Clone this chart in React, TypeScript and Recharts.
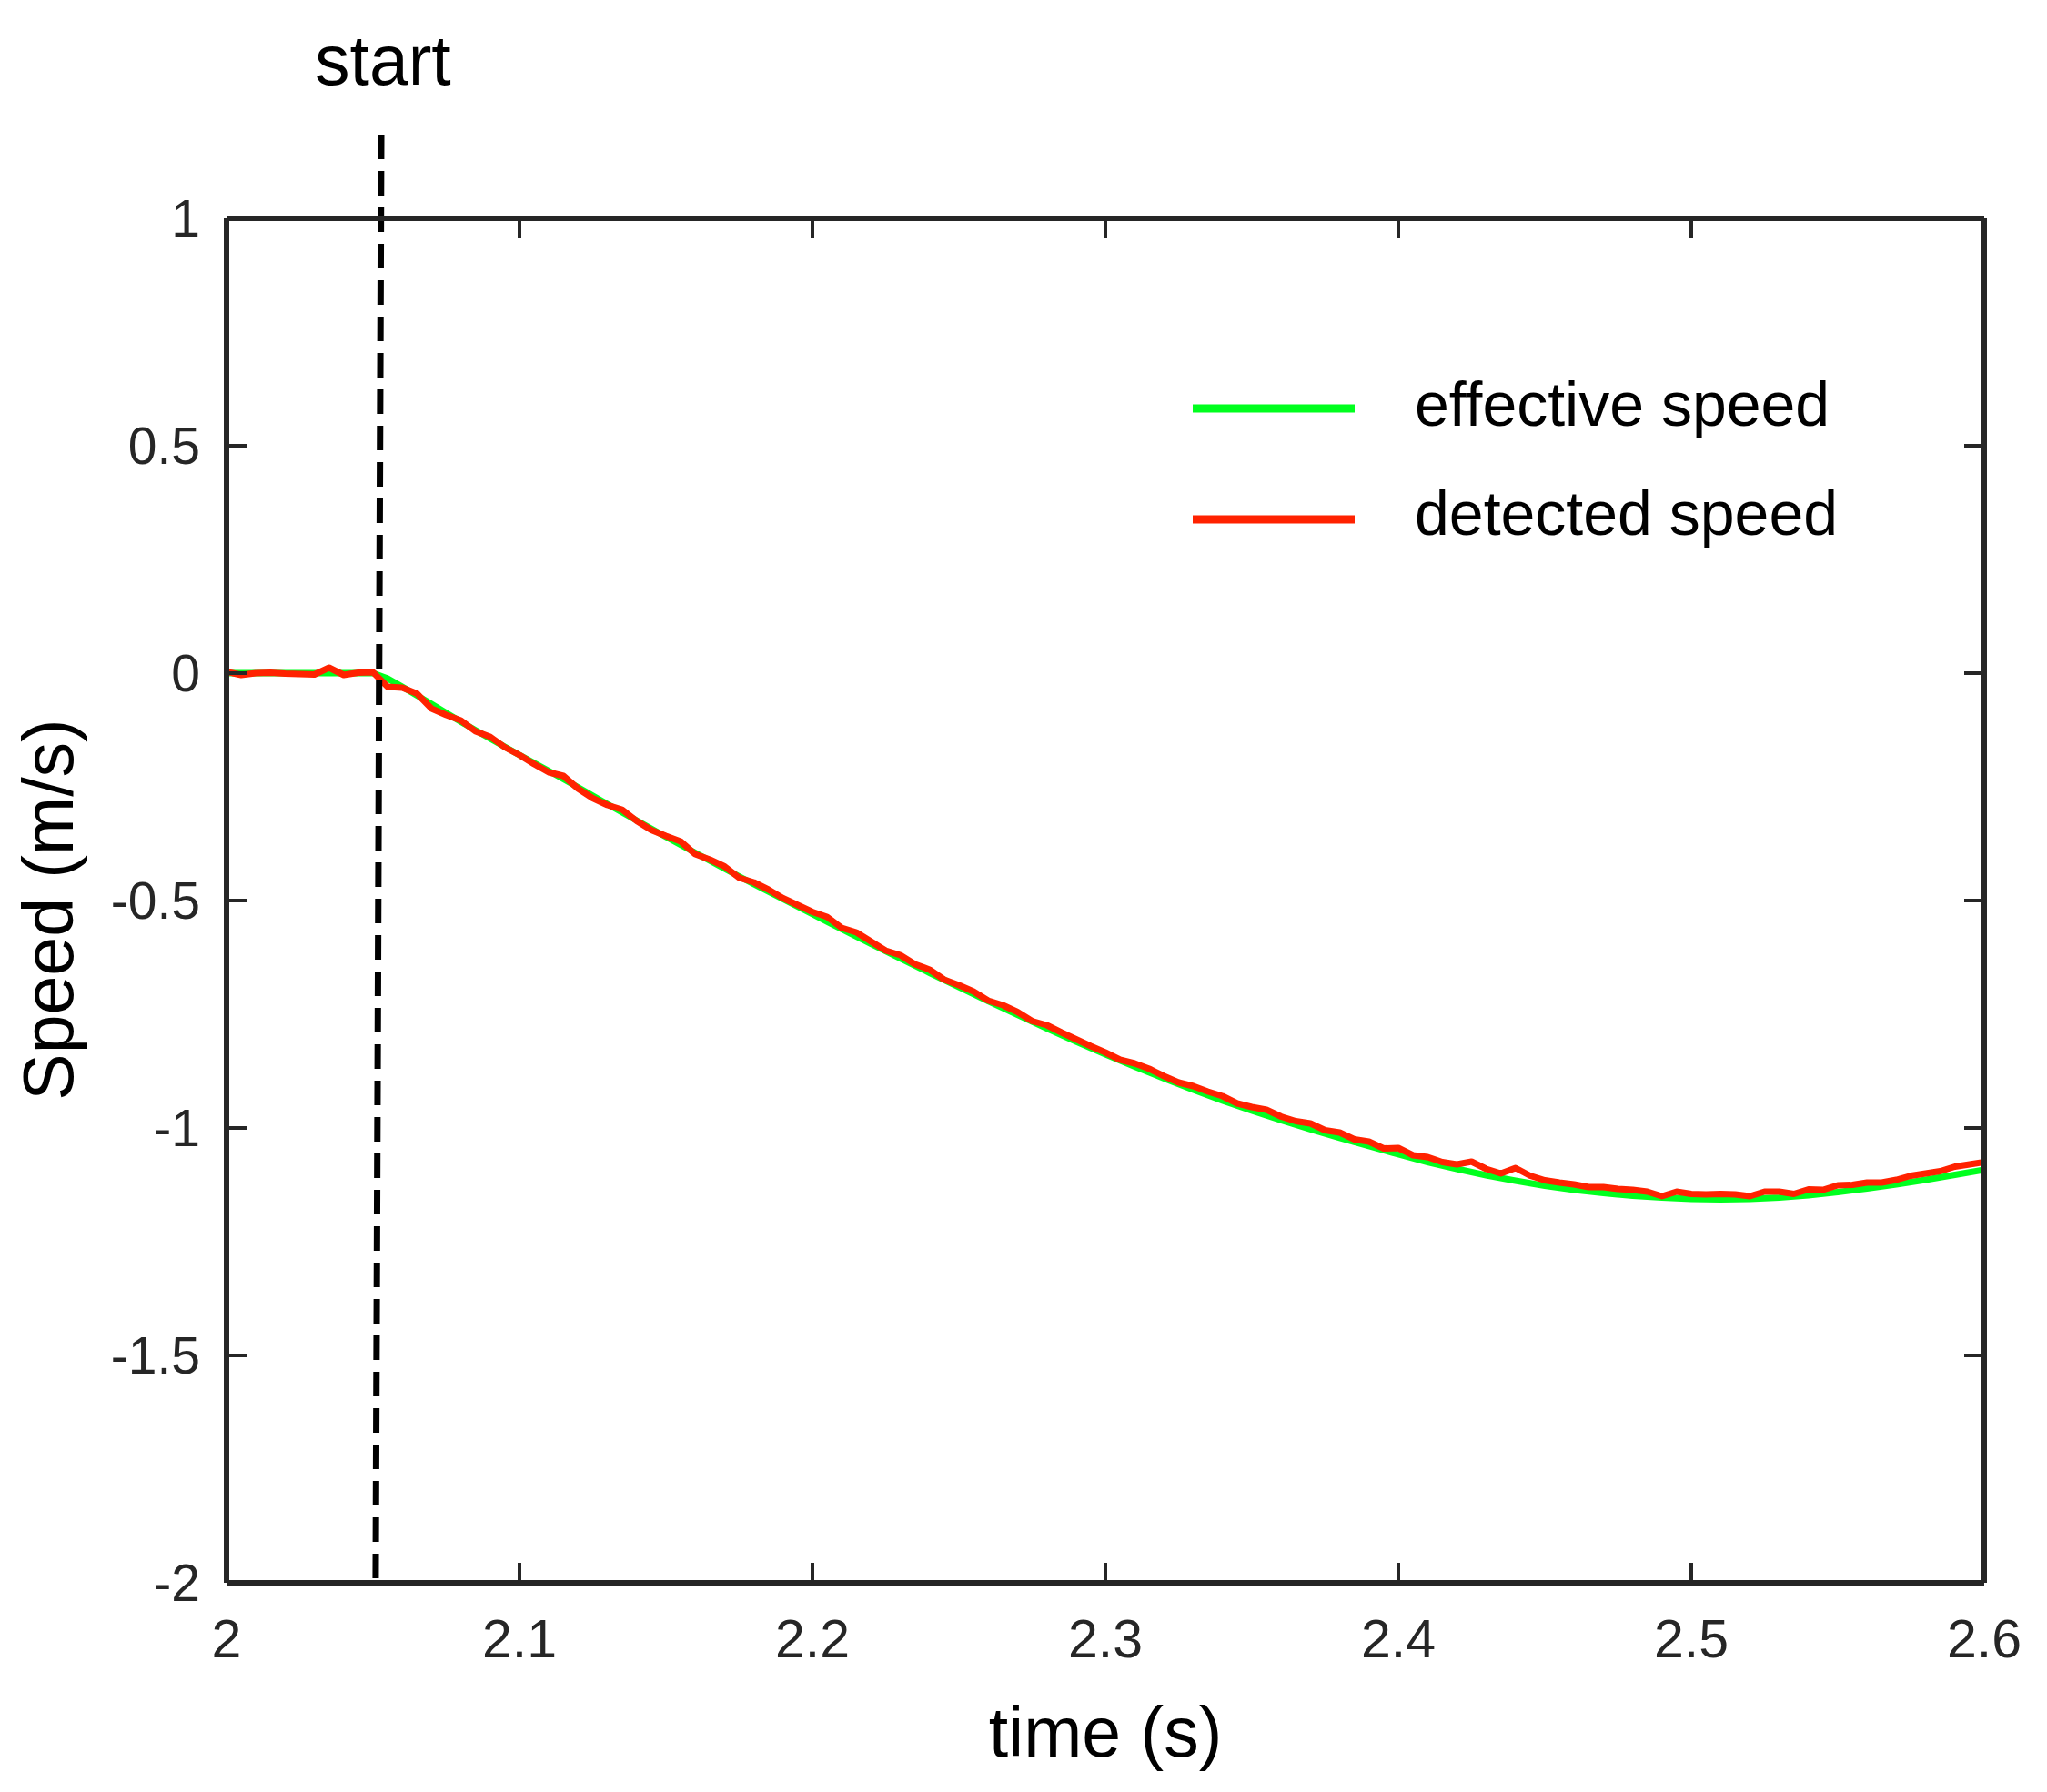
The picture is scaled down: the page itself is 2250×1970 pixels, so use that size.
import { LineChart, Line, XAxis, YAxis, Legend, ReferenceLine } from "recharts";

const effectiveTime = [
  2.0, 2.01, 2.02, 2.03, 2.04, 2.05, 2.055, 2.06, 2.07, 2.08, 2.09, 2.1, 2.11, 2.12, 2.13, 2.14, 2.15, 2.16, 2.17, 2.18,
  2.19, 2.2, 2.21, 2.22, 2.23, 2.24, 2.25, 2.26, 2.27, 2.28, 2.29, 2.3, 2.31, 2.32, 2.33, 2.34, 2.35, 2.36, 2.37, 2.38,
  2.39, 2.4, 2.41, 2.42, 2.43, 2.44, 2.45, 2.46, 2.47, 2.48, 2.49, 2.5, 2.51, 2.52, 2.53, 2.54, 2.55, 2.56, 2.57, 2.58,
  2.59, 2.6,
];
const effectiveSpeed = [
  0, 0, 0, 0, 0, 0, -0.012, -0.03, -0.068, -0.107, -0.144, -0.18, -0.215, -0.251, -0.288, -0.324, -0.36, -0.395, -0.43,
  -0.464, -0.497, -0.53, -0.563, -0.595, -0.627, -0.659, -0.69, -0.721, -0.751, -0.781, -0.81, -0.838, -0.865, -0.891,
  -0.916, -0.94, -0.962, -0.983, -1.003, -1.022, -1.04, -1.058, -1.075, -1.09, -1.104, -1.116, -1.127, -1.136, -1.143,
  -1.149, -1.153, -1.156, -1.157, -1.156, -1.153, -1.148, -1.141, -1.133, -1.124, -1.114, -1.103, -1.092,
];

const detectedTime = [
  2.0, 2.005, 2.01, 2.015, 2.02, 2.025, 2.03, 2.035, 2.04, 2.045, 2.05, 2.055, 2.06, 2.065, 2.07, 2.075, 2.08, 2.085,
  2.09, 2.095, 2.1, 2.105, 2.11, 2.115, 2.12, 2.125, 2.13, 2.135, 2.14, 2.145, 2.15, 2.155, 2.16, 2.165, 2.17, 2.175,
  2.18, 2.185, 2.19, 2.195, 2.2, 2.205, 2.21, 2.215, 2.22, 2.225, 2.23, 2.235, 2.24, 2.245, 2.25, 2.255, 2.26, 2.265,
  2.27, 2.275, 2.28, 2.285, 2.29, 2.295, 2.3, 2.305, 2.31, 2.315, 2.32, 2.325, 2.33, 2.335, 2.34, 2.345, 2.35, 2.355,
  2.36, 2.365, 2.37, 2.375, 2.38, 2.385, 2.39, 2.395, 2.4, 2.405, 2.41, 2.415, 2.42, 2.425, 2.43, 2.435, 2.44, 2.445,
  2.45, 2.455, 2.46, 2.465, 2.47, 2.475, 2.48, 2.485, 2.49, 2.495, 2.5, 2.505, 2.51, 2.515, 2.52, 2.525, 2.53, 2.535,
  2.54, 2.545, 2.55, 2.555, 2.56, 2.565, 2.57, 2.575, 2.58, 2.585, 2.59, 2.595, 2.6,
];
const detectedSpeed = [
  0.003, -0.004, 0.0, 0.001, -0.001, -0.002, -0.003, 0.012, -0.004, 0.001, 0.002, -0.03, -0.032, -0.045, -0.078, -0.092,
  -0.104, -0.128, -0.14, -0.163, -0.18, -0.2, -0.218, -0.226, -0.254, -0.275, -0.29, -0.3, -0.325, -0.345, -0.358,
  -0.37, -0.398, -0.41, -0.425, -0.45, -0.46, -0.476, -0.495, -0.51, -0.525, -0.536, -0.56, -0.57, -0.59, -0.61, -0.62,
  -0.64, -0.652, -0.674, -0.686, -0.7, -0.72, -0.73, -0.745, -0.765, -0.774, -0.79, -0.805, -0.82, -0.834, -0.85,
  -0.858, -0.87, -0.886, -0.9, -0.908, -0.92, -0.93, -0.946, -0.954, -0.96, -0.975, -0.985, -0.99, -1.005, -1.01,
  -1.025, -1.03, -1.045, -1.044, -1.06, -1.064, -1.075, -1.08, -1.074, -1.09, -1.1, -1.088, -1.105, -1.115, -1.12,
  -1.124, -1.13, -1.13, -1.134, -1.136, -1.14, -1.15, -1.14, -1.145, -1.146, -1.145, -1.146, -1.15, -1.14, -1.14,
  -1.145, -1.135, -1.136, -1.126, -1.125, -1.12, -1.12, -1.114, -1.105, -1.1, -1.095, -1.085, -1.08, -1.075,
];

const legendOrder = ["effective speed", "detected speed"];
const timeTicks = [2, 2.1, 2.2, 2.3, 2.4, 2.5, 2.6];
const speedTicks = [1, 0.5, 0, -0.5, -1, -1.5, -2];
const startLine = [
  { t: 2.0528, v: 1.184 },
  { t: 2.0509, v: -2.01 },
];

const effectiveRows = effectiveTime.map((t, i) => ({ t, v: effectiveSpeed[i] }));
const detectedRows = detectedTime.map((t, i) => ({ t, v: detectedSpeed[i] }));

const FONT = "'Liberation Sans', Arial, Helvetica, sans-serif";
const AXIS = "#262626";
const TICK = 22;

const bottomTick = ({ x, y, payload }: any) => (
  <g>
    <line x1={x} x2={x} y1={y} y2={y - TICK} stroke={AXIS} strokeWidth={4} />
    <text x={x} y={y + 82} textAnchor="middle" fontSize={59} fontFamily={FONT} fill={AXIS}>
      {String(payload.value)}
    </text>
  </g>
);
const topTick = ({ x, y }: any) => <line x1={x} x2={x} y1={y} y2={y + TICK} stroke={AXIS} strokeWidth={4} />;
const leftTick = ({ x, y, payload }: any) => (
  <g>
    <line x1={x} x2={x + TICK} y1={y} y2={y} stroke={AXIS} strokeWidth={4} />
    <text x={x - 29} y={y + 20} textAnchor="end" fontSize={57} fontFamily={FONT} fill={AXIS}>
      {String(payload.value)}
    </text>
  </g>
);
const rightTick = ({ x, y }: any) => <line x1={x} x2={x - TICK} y1={y} y2={y} stroke={AXIS} strokeWidth={4} />;

const renderLegend = ({ payload }: any) => {
  const items = [...(payload || [])].sort(
    (a: any, b: any) => legendOrder.indexOf(a.value) - legendOrder.indexOf(b.value)
  );
  return (
    <svg width={780} height={220}>
      {items.map((p: any, i: number) => (
        <g key={p.value}>
          <line x1={0} x2={178} y1={49 + i * 122} y2={49 + i * 122} stroke={p.color} strokeWidth={9} />
          <text x={244} y={68 + i * 120} fontSize={68} fontFamily={FONT} fill="#000">
            {p.value}
          </text>
        </g>
      ))}
    </svg>
  );
};

export default function App() {
  return (
    <div style={{ width: 2250, height: 1970, background: "#fff" }}>
      <style>{"body{margin:0}"}</style>
      <LineChart width={2250} height={1970} margin={{ top: 239, right: 68, bottom: 0, left: 0 }}>
        <XAxis
          xAxisId="b"
          dataKey="t"
          type="number"
          domain={[2, 2.6]}
          ticks={timeTicks}
          interval={0}
          allowDataOverflow
          height={230}
          tickSize={0}
          tickMargin={0}
          tickLine={false}
          tick={bottomTick}
          axisLine={{ stroke: AXIS, strokeWidth: 6 }}
          label={{
            content: ({ viewBox }: any) => (
              <text
                x={viewBox.x + viewBox.width / 2}
                y={viewBox.y + 191}
                textAnchor="middle"
                fontSize={77}
                fontFamily={FONT}
                fill="#000"
              >
                time (s)
              </text>
            ),
          }}
        />
        <XAxis
          xAxisId="t"
          orientation="top"
          dataKey="t"
          type="number"
          domain={[2, 2.6]}
          ticks={timeTicks}
          interval={0}
          allowDataOverflow
          height={1}
          tickSize={0}
          tickMargin={0}
          tickLine={false}
          tick={topTick}
          axisLine={{ stroke: AXIS, strokeWidth: 6 }}
        />
        <YAxis
          yAxisId="l"
          type="number"
          domain={[-2, 1]}
          ticks={speedTicks}
          interval={0}
          allowDataOverflow
          width={249}
          tickSize={0}
          tickMargin={0}
          tickLine={false}
          tick={leftTick}
          axisLine={{ stroke: AXIS, strokeWidth: 6 }}
          label={{
            content: ({ viewBox }: any) => {
              const cx = viewBox.x + 80;
              const cy = viewBox.y + viewBox.height / 2 + 10;
              return (
                <text
                  x={cx}
                  y={cy}
                  transform={`rotate(-90, ${cx}, ${cy})`}
                  textAnchor="middle"
                  fontSize={77}
                  fontFamily={FONT}
                  fill="#000"
                >
                  Speed (m/s)
                </text>
              );
            },
          }}
        />
        <YAxis
          yAxisId="r"
          orientation="right"
          type="number"
          domain={[-2, 1]}
          ticks={speedTicks}
          interval={0}
          allowDataOverflow
          width={1}
          tickSize={0}
          tickMargin={0}
          tickLine={false}
          tick={rightTick}
          axisLine={{ stroke: AXIS, strokeWidth: 6 }}
        />
        <Legend
          layout="vertical"
          align="center"
          verticalAlign="middle"
          content={renderLegend}
          wrapperStyle={{ position: "absolute", left: 1311, top: 400, width: 780, height: 220 }}
        />
        <Line
          xAxisId="b"
          yAxisId="l"
          data={effectiveRows}
          dataKey="v"
          name="effective speed"
          type="linear"
          stroke="#00ff1e"
          strokeWidth={7}
          dot={false}
          isAnimationActive={false}
        />
        <Line
          xAxisId="b"
          yAxisId="l"
          data={detectedRows}
          dataKey="v"
          name="detected speed"
          type="linear"
          stroke="#ff2200"
          strokeWidth={7}
          strokeLinejoin="round"
          dot={false}
          isAnimationActive={false}
        />
        <ReferenceLine
          xAxisId="b"
          yAxisId="l"
          segment={[
            { x: startLine[0].t, y: startLine[0].v },
            { x: startLine[1].t, y: startLine[1].v },
          ]}
          ifOverflow="visible"
          stroke="#000"
          strokeWidth={7}
          strokeDasharray="27 13"
          label={{
            content: ({ viewBox }: any) => (
              <text x={viewBox.x + 8} y={viewBox.y - 55} textAnchor="middle" fontSize={77} fontFamily={FONT} fill="#000">
                start
              </text>
            ),
          }}
        />
      </LineChart>
    </div>
  );
}
